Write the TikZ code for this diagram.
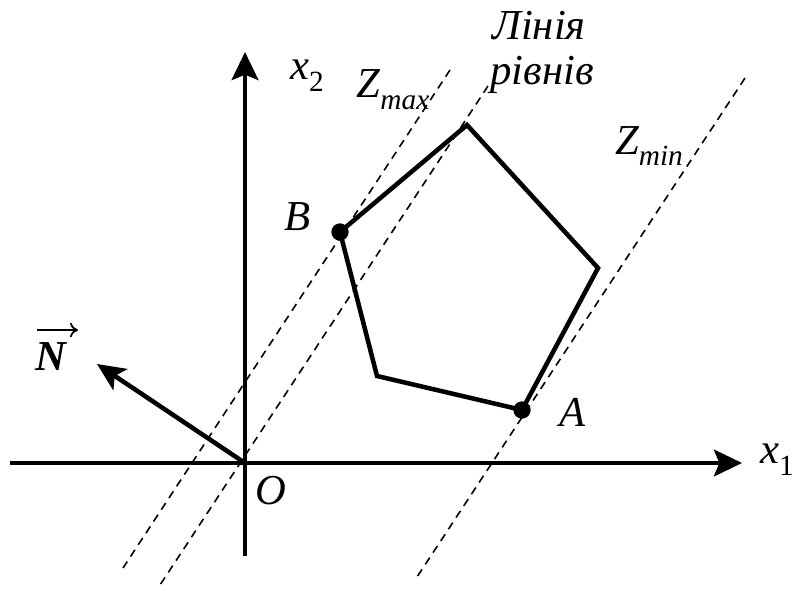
\documentclass[tikz,border=0pt]{standalone}
\usepackage{fontspec}
\setmainfont{Liberation Serif}[ItalicFont={Liberation Serif Italic},BoldItalicFont={Liberation Serif Bold Italic},BoldFont={Liberation Serif Bold}]
\usetikzlibrary{arrows.meta}
\tikzset{
  axis/.style={line width=3.4pt,-{Stealth[length=21pt,width=20pt,inset=4pt]}},
  edge/.style={line width=3.4pt,line join=miter},
  level/.style={line width=1.2pt,dash pattern=on 6pt off 4.5pt},
  vec/.style={line width=3.4pt,-{Stealth[length=21pt,width=19pt,inset=5pt]}},
  lbl/.style={font=\fontsize{32}{36}\selectfont\itshape,inner sep=0pt},
  dot/.style={circle,fill=black,inner sep=0pt,minimum size=13pt},
  overarr/.style={line width=1.3pt,-{To[length=6pt,width=11pt]}}
}
\newcommand{\subtxt}[1]{\raisebox{-0.28em}{\fontsize{22}{24}\selectfont #1}}
\begin{document}
\begin{tikzpicture}[x=0.75pt,y=-0.75pt]
\useasboundingbox (0,0) rectangle (795,590);
% axes
\coordinate (O) at (245,463);
\coordinate (xl) at (10,463);
\coordinate (xr) at (742,463);
\coordinate (yb) at (245,556);
\coordinate (yt) at (245,52);
\draw[line width=3.4pt] (yb) -- (O);
\draw[axis] (O) -- (yt);
\draw[line width=3.4pt] (xl) -- (O);
\draw[axis] (O) -- (xr);
% level lines
\coordinate (m1) at (450,70);   \coordinate (m2) at (123,568);
\coordinate (l1) at (488,86);   \coordinate (l2) at (160,585);
\coordinate (n1) at (745,78);   \coordinate (n2) at (417,577);
\draw[level] (m1) -- (m2);
\draw[level] (l1) -- (l2);
\draw[level] (n1) -- (n2);
% polygon
\coordinate (P1) at (467,125);
\coordinate (P2) at (598,268);
\coordinate (A) at (522,410);
\coordinate (P4) at (377,376);
\coordinate (B) at (340,232);
\draw[edge] (B) -- (P1) -- (P2) -- (A) -- (P4) -- cycle;
\node[dot] (Ad) at (A) {};
\node[dot] (Bd) at (B) {};
% normal vector
\coordinate (Nt) at (97,364);
\draw[vec] (O) -- (Nt);
% labels
\node[lbl] (lx2) at (307,76) {x\subtxt{\upshape 2}};
\node[lbl] (lx1) at (777,460) {x\subtxt{\upshape 1}};
\node[lbl] (lO) at (271,491) {O};
\node[lbl] (lA) at (573,412) {A};
\node[lbl] (lB) at (298,217) {B};
\node[lbl] (lmax) at (393,90) {Z\subtxt{max}};
\node[lbl] (lmin) at (649,146) {Z\subtxt{min}};
\node[lbl] (lline1) at (539,26) {Лінія};
\node[lbl] (lline2) at (542,75) {рівнів};
\node[lbl,font=\fontsize{32}{36}\selectfont\bfseries\itshape] (lN) at (51,357) {N};
\coordinate (na) at (37,330);
\coordinate (nb) at (78,330);
\draw[overarr] (na) -- (nb);
\end{tikzpicture}
\end{document}
